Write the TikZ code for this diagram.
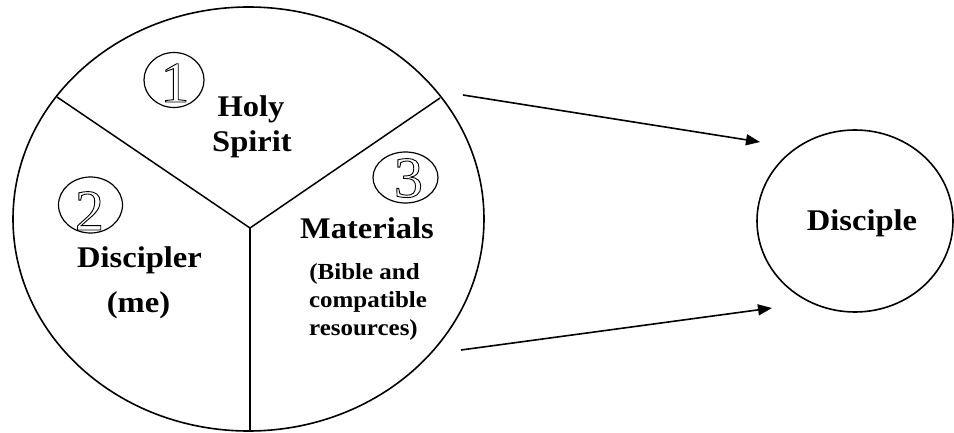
\documentclass[tikz,border=0pt]{standalone}
\usepackage{fontspec}
\setmainfont{Liberation Serif}
\usetikzlibrary{shapes.geometric,arrows.meta}
\newcommand\outlinedigit[1]{\special{pdf:literal direct 1 Tr 0.9 w}#1\special{pdf:literal direct 0 Tr}}
\tikzset{
  ring/.style={ellipse, draw, line width=1.6pt, inner sep=0pt},
  numring/.style={ellipse, draw, line width=1.2pt, inner sep=0pt},
  divider/.style={line width=1.5pt},
  bigtxt/.style={font=\bfseries\fontsize{30}{36}\selectfont, anchor=base, inner sep=0pt, xscale=1.085},
  smalltxt/.style={font=\bfseries\fontsize{23}{28}\selectfont, anchor=base, inner sep=0pt, xscale=1.085},
  digit/.style={font=\fontsize{58}{60}\selectfont, anchor=base, inner sep=0pt, xscale=1.0},
  flow/.style={line width=1.6pt, -{Triangle[length=14pt,width=11pt]}}
}
\begin{document}
\begin{tikzpicture}[x=1pt,y=-1pt]
\useasboundingbox (0,0) rectangle (954,433);
% big circle
\node[ring, minimum width=471pt, minimum height=424pt] (big) at (248.5,219) {};
\coordinate (hub) at (250,228);
\coordinate (lend) at (57,97);
\coordinate (rend) at (440,98);
\coordinate (bend) at (250,431);
\draw[divider] (lend) -- (hub) -- (rend);
\draw[divider] (hub) -- (bend);
% disciple
\node[ring, minimum width=196pt, minimum height=182pt] (disc) at (855,221) {};
\node[bigtxt] (disctxt) at (862,230) {Disciple};
% arrows
\coordinate (a1s) at (463,95);
\coordinate (a1e) at (760,142);
\coordinate (a2s) at (461,350);
\coordinate (a2e) at (772,308);
\draw[flow] (a1s) -- (a1e);
\draw[flow] (a2s) -- (a2e);
% number rings
\node[numring, minimum width=60pt, minimum height=55pt] (c1) at (174,80) {};
\node[numring, minimum width=64pt, minimum height=56pt] (c2) at (90.5,205) {};
\node[numring, minimum width=65pt, minimum height=51pt] (c3) at (405.5,177.5) {};
% texts
\node[bigtxt] (holy) at (251,117) {Holy};
\node[bigtxt] (spirit) at (252,152) {Spirit};
\node[bigtxt] (discipler) at (139.5,267) {Discipler};
\node[bigtxt] (me) at (138.5,312) {(me)};
\node[bigtxt] (mat) at (367,239) {Materials};
\node[smalltxt] (bible) at (364.5,279) {(Bible and};
\node[smalltxt] (compat) at (368,307) {compatible};
\node[smalltxt] (res) at (363.5,335) {resources)};
% outlined digits
\begin{scope}
\node[digit] (d1) at (175,102) {\outlinedigit{1}};
\end{scope}
\begin{scope}
\node[digit] (d2) at (89.5,230) {\outlinedigit{2}};
\end{scope}
\begin{scope}
\node[digit] (d3) at (408.5,197) {\outlinedigit{3}};
\end{scope}
\end{tikzpicture}
\end{document}
